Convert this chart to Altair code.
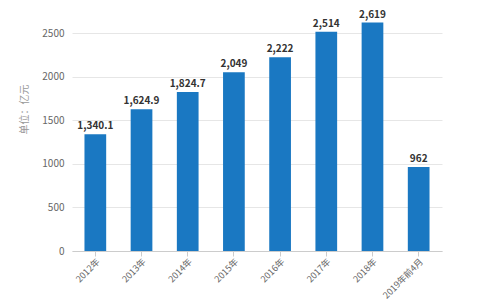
import altair as alt
import pandas as pd

categories = ["2012年", "2013年", "2014年", "2015年", "2016年", "2017年", "2018年", "2019年前4月"]
values = [1340.1, 1624.9, 1824.7, 2049, 2222, 2514, 2619, 962]
labels = ["1,340.1", "1,624.9", "1,824.7", "2,049", "2,222", "2,514", "2,619", "962"]
y_ticks = [0, 500, 1000, 1500, 2000, 2500]

df = pd.DataFrame({"cat": categories, "val": values, "lab": labels})
FONT = "Noto Sans CJK SC"

x = alt.X("cat:N", sort=categories, title=None,
          scale=alt.Scale(paddingInner=0.53, paddingOuter=0.27),
          axis=alt.Axis(labelAngle=-45, labelAlign="right", labelBaseline="top",
                        labelColor="#666666", labelFontSize=9, labelFont=FONT,
                        domainColor="#cccccc", tickColor="#cccccc", tickSize=5,
                        labelPadding=1, grid=False))
y = alt.Y("val:Q", title="单位：亿元",
          scale=alt.Scale(domain=[0, 2500], nice=False),
          axis=alt.Axis(values=y_ticks, format="d", labelColor="#666666", labelFontSize=10, labelFont=FONT,
                        domain=False, ticks=False, gridColor="#e6e6e6", labelPadding=8,
                        titleColor="#999999", titleFontSize=10, titleFont=FONT,
                        titleFontWeight="normal", titlePadding=12, titleY=76))

bars = alt.Chart(df).mark_bar(color="#1a78c2").encode(x=x, y=y)
text = alt.Chart(df).mark_text(dy=-8, fontSize=10, fontWeight="bold", color="#333333", font=FONT).encode(
    x=alt.X("cat:N", sort=categories), y="val:Q", text="lab:N")

chart = (bars + text).properties(
    width=370, height=218,
    autosize=alt.AutoSizeParams(type="none"),
    padding={"left": 72, "top": 33, "right": 38, "bottom": 49},
).configure_view(stroke=None)

chart.save("out.html", embed_options={"renderer": "svg", "actions": False})
